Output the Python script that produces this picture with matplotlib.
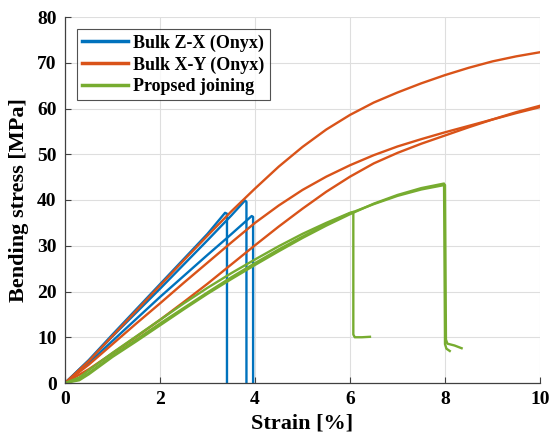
import matplotlib
matplotlib.use("Agg")
import matplotlib.pyplot as plt

# ---- data (strain %, stress MPa) ----
zx1_x = [0, 0.5, 1, 1.5, 2, 2.5, 3, 3.37, 3.41, 3.41]
zx1_y = [0, 5.0, 10.6, 16.1, 21.6, 27.1, 32.6, 37.2, 37.0, 0]
zx2_x = [0, 0.5, 1, 1.5, 2, 2.5, 3, 3.5, 3.79, 3.82, 3.82]
zx2_y = [0, 4.9, 10.2, 15.4, 20.6, 25.9, 31.2, 36.6, 39.9, 39.6, 0]
zx3_x = [0, 0.5, 1, 1.5, 2, 2.5, 3, 3.4, 3.93, 3.96, 3.96]
zx3_y = [0, 4.4, 9.2, 14.0, 18.8, 23.4, 28.0, 31.6, 36.5, 36.3, 0]

xy_x = [0, 0.5, 1, 1.5, 2, 2.5, 3, 3.5, 4, 4.5, 5, 5.5, 6, 6.5, 7, 7.5, 8, 8.5, 9, 9.5, 10]
xy1_y = [0, 4.8, 10.3, 15.8, 21.3, 26.8, 32.2, 37.5, 42.5, 47.3, 51.6, 55.4, 58.6, 61.3,
         63.5, 65.5, 67.3, 68.9, 70.3, 71.4, 72.3]
xy2_y = [0, 4.0, 8.5, 13.0, 17.4, 21.9, 26.3, 30.7, 35.0, 38.8, 42.2, 45.1, 47.6, 49.8,
         51.7, 53.3, 54.8, 56.2, 57.6, 59.0, 60.3]
xy3_y = [0, 3.0, 6.5, 10.1, 13.8, 17.7, 21.7, 25.9, 30.1, 34.2, 38.1, 41.8, 45.1, 48.0,
         50.3, 52.3, 54.1, 55.9, 57.6, 59.2, 60.6]

pj_x = [0, 0.3, 0.5, 1, 1.5, 2, 2.5, 3, 3.5, 4, 4.5, 5, 5.5, 6]
pj1_y = [0, 1.2, 2.8, 6.6, 10.2, 13.8, 17.4, 20.8, 24.0, 27.0, 29.9, 32.6, 35.0, 37.2]
pj1_tail_x = [6.07, 6.07, 6.1, 6.25, 6.42]
pj1_tail_y = [37.4, 10.6, 10.0, 10.0, 10.1]
pj2_y = [0, 0.8, 2.2, 6.0, 9.5, 13.0, 16.4, 19.8, 23.1, 26.2, 29.2, 32.0, 34.7, 37.1]
pj2_tail_x = [6.5, 7, 7.5, 8.0, 8.02, 8.05, 8.2, 8.35]
pj2_tail_y = [39.1, 40.9, 42.3, 43.3, 9.5, 8.6, 8.2, 7.6]
pj3_y = [0, 0.6, 1.9, 5.7, 9.1, 12.6, 16.1, 19.5, 22.7, 25.8, 28.8, 31.7, 34.4, 36.9]
pj3_tail_x = [6.5, 7, 7.5, 7.98, 8.0, 8.03, 8.1]
pj3_tail_y = [39.2, 41.1, 42.6, 43.6, 8.5, 7.5, 7.0]

labels = ["Bulk Z-X (Onyx)", "Bulk X-Y (Onyx)", "Propsed joining"]
colors = ["#0072BD", "#D95319", "#77AC30"]
xticks = [0, 2, 4, 6, 8, 10]
yticks = [0, 10, 20, 30, 40, 50, 60, 70, 80]

plt.rcParams['font.family'] = ['Liberation Serif', 'DejaVu Serif']
plt.rcParams['font.weight'] = 'bold'

fig = plt.figure(figsize=(5.49, 4.43), dpi=100)
ax = fig.add_axes([65/549, 1-383/443, 475/549, 366/443])

lw = 1.7
kw = dict(lw=lw, solid_joinstyle='round')
h1, = ax.plot(zx1_x, zx1_y, color=colors[0], label=labels[0], **kw)
ax.plot(zx2_x, zx2_y, color=colors[0], **kw)
ax.plot(zx3_x, zx3_y, color=colors[0], **kw)
h2, = ax.plot(xy_x, xy1_y, color=colors[1], label=labels[1], **kw)
ax.plot(xy_x, xy2_y, color=colors[1], **kw)
ax.plot(xy_x, xy3_y, color=colors[1], **kw)
h3, = ax.plot(pj_x + pj1_tail_x, pj1_y + pj1_tail_y, color=colors[2], label=labels[2], **kw)
ax.plot(pj_x + pj2_tail_x, pj2_y + pj2_tail_y, color=colors[2], **kw)
ax.plot(pj_x + pj3_tail_x, pj3_y + pj3_tail_y, color=colors[2], **kw)

ax.set_xlim(0, 10)
ax.set_ylim(0, 80)
ax.set_xticks(xticks)
ax.set_yticks(yticks)
ax.grid(True, color='#dedede', lw=0.8)
ax.set_axisbelow(True)
for s in ['top', 'right']:
    ax.spines[s].set_visible(False)
for s in ['left', 'bottom']:
    ax.spines[s].set_color('#404040')
    ax.spines[s].set_linewidth(0.9)
ax.tick_params(direction='in', length=4, color='#404040', labelsize=14, pad=6)
for t in ax.get_xticklabels() + ax.get_yticklabels():
    t.set_fontweight('bold')
ax.set_xlabel("Strain [%]", fontsize=16, fontweight='bold', labelpad=4)
ax.set_ylabel("Bending stress [MPa]", fontsize=16, fontweight='bold', labelpad=6)

leg = ax.legend(handles=[h1, h2, h3], loc='upper left', bbox_to_anchor=(12/475, 1-12/366),
                fontsize=13, frameon=True, fancybox=False, edgecolor='#262626',
                handlelength=2.5, handletextpad=0.3, borderpad=0.3, labelspacing=0.25,
                borderaxespad=0)
leg.get_frame().set_linewidth(0.8)
for line in leg.get_lines():
    line.set_linewidth(2.5)
for t in leg.get_texts():
    t.set_fontweight('bold')

fig.savefig("out.png", dpi=100)
